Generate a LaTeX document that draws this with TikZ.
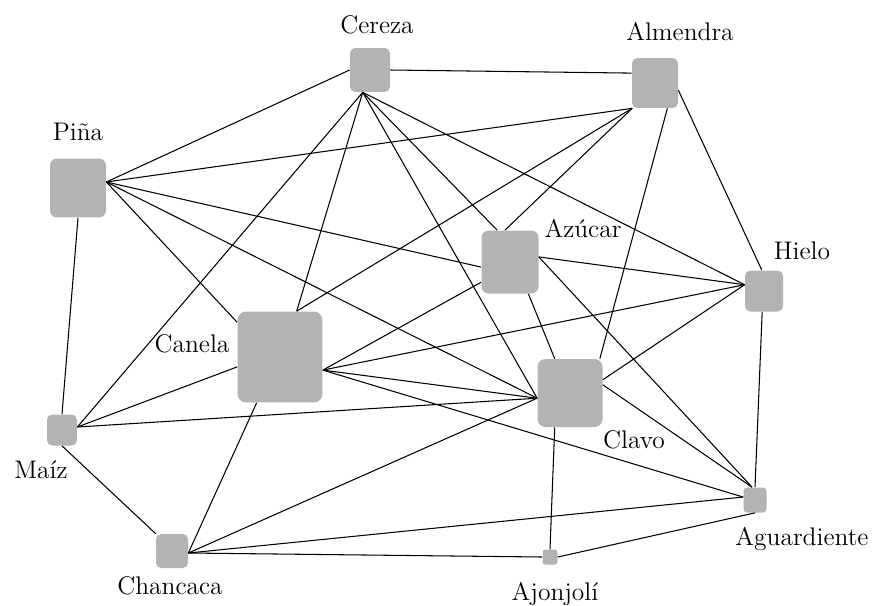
\documentclass[tikz,border=0pt]{standalone}
\usepackage{fontspec}
\usepackage{tikz}
\definecolor{boxgray}{RGB}{178,179,181}

\begin{document}
\begin{tikzpicture}[x=0.02cm,y=-0.02cm,
    sq/.style 2 args={fill=boxgray,rounded corners=3pt,inner sep=0pt,minimum width=#1cm,minimum height=#2cm},
    lbl/.style={anchor=base,inner sep=0pt,font=\fontsize{14.5}{17}\selectfont},
    edge/.style={line width=0.6pt}]

    \useasboundingbox (0,0) rectangle (874,605);

    % Ingredients
    \node[sq={0.80}{0.88}] (cereza) at (370,70) {};
    \node[sq={0.92}{1.00}] (almendra) at (655,83) {};
    \node[sq={1.12}{1.18},rounded corners=4pt] (pina) at (78,188) {};
    \node[sq={1.14}{1.26},rounded corners=4pt] (azucar) at (510,262) {};
    \node[sq={0.76}{0.82}] (hielo) at (764,291) {};
    \node[sq={1.70}{1.82},rounded corners=5pt] (canela) at (280,357) {};
    \node[sq={1.30}{1.36},rounded corners=4.5pt] (clavo) at (570,393) {};
    \node[sq={0.60}{0.62}] (maiz) at (62,430) {};
    \node[sq={0.64}{0.68}] (chancaca) at (172,551) {};
    \node[sq={0.30}{0.30},rounded corners=1.5pt] (ajonjoli) at (550,557) {};
    \node[sq={0.46}{0.50},rounded corners=2pt] (aguardiente) at (755,500) {};

    % Labels
    \node[lbl] (lcereza) at (377,33) {Cereza};
    \node[lbl] (lalmendra) at (680,40) {Almendra};
    \node[lbl] (lpina) at (78,140) {Piña};
    \node[lbl] (lazucar) at (583,237) {Azúcar};
    \node[lbl] (lhielo) at (802,259) {Hielo};
    \node[lbl] (lcanela) at (192,352) {Canela};
    \node[lbl] (lclavo) at (634,448) {Clavo};
    \node[lbl] (lmaiz) at (41,478) {Maíz};
    \node[lbl] (lchancaca) at (170,594) {Chancaca};
    \node[lbl] (lajonjoli) at (555,600) {Ajonjolí};
    \node[lbl] (laguardiente) at (802,545) {Aguardiente};

    % Links between ingredients
    \foreach \a/\b in {pina.12/cereza.west, pina.12/almendra.-132, pina.12/azucar.190,
        pina.12/clavo.189, pina.12/canela.141, pina.south/maiz.north,
        cereza.east/almendra.157, cereza.-108/maiz.11, cereza.-108/canela.70,
        cereza.-108/hielo.162, cereza.-108/azucar.112, cereza.-108/clavo.189,
        almendra.-132/canela.70, almendra.-132/azucar.99, almendra.-64/clavo.49,
        almendra.-17/hielo.96,
        azucar.215/canela.-17, azucar.10/hielo.162, azucar.-60/clavo.114,
        azucar.10/aguardiente.103,
        canela.193/maiz.11, canela.-117/chancaca.-7, canela.-17/hielo.162,
        canela.-17/clavo.189, canela.-17/aguardiente.166,
        clavo.189/maiz.11, clavo.189/chancaca.-7, clavo.-114/ajonjoli.north,
        clavo.22/hielo.162, clavo.14/aguardiente.103,
        hielo.-95/aguardiente.north, maiz.south/chancaca.north west,
        chancaca.-7/aguardiente.166, chancaca.-7/ajonjoli.west,
        ajonjoli.east/aguardiente.south}
        {
        \draw[edge] (\a) -- (\b);
        }

\end{tikzpicture}
\end{document}
